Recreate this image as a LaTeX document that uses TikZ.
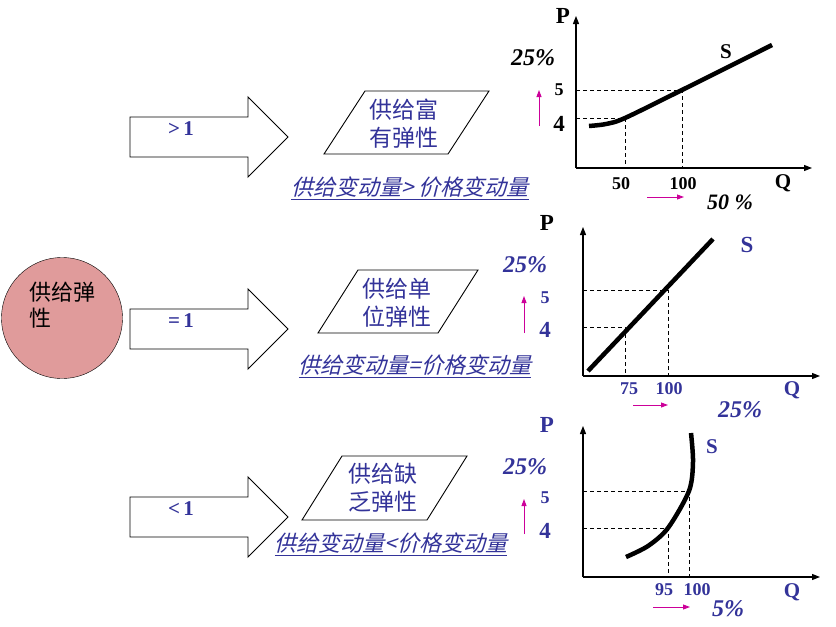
\documentclass[tikz,border=0pt]{standalone}
\usepackage{fontspec}
\setmainfont{Liberation Serif}
\newfontfamily\cjk{Noto Sans CJK SC}
\newfontfamily\cjkslant[FakeSlant=0.25]{Noto Sans CJK SC}
\usetikzlibrary{arrows.meta}
\definecolor{txtblue}{RGB}{51,51,153}
\definecolor{arrowpink}{RGB}{204,0,153}
\definecolor{ballred}{RGB}{224,155,155}
\tikzset{
  axisline/.style={line width=1.2pt, -{Triangle[length=8pt,width=6pt]}},
  guideline/.style={line width=0.7pt, dash pattern=on 4pt off 3pt},
  supplyline/.style={line width=4.5pt},
  rise/.style={arrowpink, line width=0.9pt, -{Triangle[length=7pt,width=5pt]}},
  blockarrow/.style={draw, line width=0.9pt, fill=white},
  slantbox/.style={draw, line width=0.9pt},
  ratiolabel/.style={font=\bfseries\fontsize{21}{21}\selectfont, text=txtblue},
  kindlabel/.style={font=\cjk\fontsize{23}{28}\selectfont, text=txtblue, align=center},
  rulelabel/.style={font=\cjkslant\fontsize{22}{22}\selectfont, text=txtblue, inner sep=0pt},
  ticklab/.style={font=\bfseries\fontsize{18}{18}\selectfont, inner sep=0pt},
  biglab/.style={font=\bfseries\fontsize{23}{23}\selectfont, inner sep=0pt},
  axislab/.style={font=\bfseries\fontsize{21}{21}\selectfont, inner sep=0pt},
  pct/.style={font=\bfseries\itshape\fontsize{24}{24}\selectfont, inner sep=0pt},
}
\begin{document}
\begin{tikzpicture}[x=1pt,y=-1pt]
\useasboundingbox (0,0) rectangle (836,627);

% supply elasticity
\node[circle, draw, fill=ballred, minimum size=121pt, inner sep=0pt] (elast) at (62,318) {};
\node[font=\cjk\fontsize{22}{26}\selectfont, align=left, inner sep=0pt, anchor=north west] (elasttext) at (29,282) {供给弹\\性};

% block arrows
\foreach \yc/\lab/\name in {137/{>\,1}/gt, 329/{=\,1}/eq, 517/{<\,1}/lt}{
  \draw[blockarrow] (130,\yc-20) -- (248,\yc-20) -- (248,\yc-40) -- (288,\yc)
    -- (248,\yc+40) -- (248,\yc+20) -- (130,\yc+20) -- cycle;
  \node[ratiolabel] (ratio\name) at (181,\yc-8) {\lab};
}

% parallelograms
\draw[slantbox] (365,91) -- (489,91) -- (448,154) -- (324,154) -- cycle;
\node[kindlabel] (rich) at (404,124) {供给富\\有弹性};
\draw[slantbox] (358,270) -- (478,270) -- (438,333) -- (318,333) -- cycle;
\node[kindlabel] (unit) at (397,303) {供给单\\位弹性};
\draw[slantbox] (342,456) -- (467,456) -- (427,520) -- (302,520) -- cycle;
\node[kindlabel] (poor) at (383,488) {供给缺\\乏弹性};

\node[rulelabel] (rulegt) at (410,188) {\underline{供给变动量> 价格变动量}};
\node[rulelabel] (ruleeq) at (415,366) {\underline{供给变动量=价格变动量}};
\node[rulelabel] (rulelt) at (391,544) {\underline{供给变动量<价格变动量}};

% elastic supply
\draw[axisline] (576,168) -- (576,16);
\draw[axisline] (576,168) -- (812,168);
\draw[guideline] (576,90) -- (682,90) -- (682,168);
\draw[guideline] (576,118) -- (625,118) -- (625,168);
\draw[supplyline] plot[smooth] coordinates {(589,126) (606,124) (625,118) (682,90) (772,45)};
\node[biglab] (p1) at (563,16) {P};
\node[axislab] (s1) at (726,52) {S};
\node[axislab] (q1) at (783,183) {Q};
\node[pct] (dp1) at (533,58) {25\%};
\node[ticklab] (five1) at (559,90) {5};
\node[biglab] (four1) at (559,124) {4};
\node[ticklab] (qa1) at (621,184) {50};
\node[ticklab] (qb1) at (683,184) {100};
\node[pct, font=\bfseries\itshape\fontsize{22}{22}\selectfont] (dq1) at (730,202) {50 \%};
\draw[rise] (539,126) -- (539,90);
\draw[rise] (647,197) -- (684,197);

% unit elastic supply
\draw[axisline] (583,376) -- (583,227);
\draw[axisline] (583,376) -- (820,376);
\draw[guideline] (583,290) -- (668,290) -- (668,376);
\draw[guideline] (583,327) -- (625,327) -- (625,376);
\draw[supplyline] (588,371) -- (713,239);
\node[biglab] (p2) at (547,223) {P};
\begin{scope}[txtblue]
\node[biglab] (s2) at (747,245) {S};
\node[axislab] (q2) at (792,390) {Q};
\node[pct] (dp2) at (525,265) {25\%};
\node[ticklab] (five2) at (545,298) {5};
\node[biglab] (four2) at (545,330) {4};
\node[ticklab] (qa2) at (629,389) {75};
\node[ticklab] (qb2) at (669,389) {100};
\node[pct] (dq2) at (740,410) {25\%};
\end{scope}
\draw[rise] (524,333) -- (524,296);
\draw[rise] (633,405) -- (668,405);

% inelastic supply
\draw[axisline] (583,577) -- (583,426);
\draw[axisline] (583,577) -- (820,577);
\draw[guideline] (583,491) -- (689,491) -- (689,577);
\draw[guideline] (583,528) -- (668,528) -- (668,577);
\draw[supplyline] plot[smooth] coordinates {(626,557) (648,546) (668,528) (689,491) (693,462) (691,433)};
\begin{scope}[txtblue]
\node[biglab] (p3) at (547,425) {P};
\node[axislab] (s3) at (712,447) {S};
\node[axislab] (q3) at (792,592) {Q};
\node[pct] (dp3) at (525,467) {25\%};
\node[ticklab] (five3) at (545,498) {5};
\node[biglab] (four3) at (545,531) {4};
\node[ticklab] (qa3) at (664,590) {95};
\node[ticklab] (qb3) at (697,590) {100};
\node[pct] (dq3) at (728,609) {5\%};
\end{scope}
\draw[rise] (524,534) -- (524,499);
\draw[rise] (653,607) -- (690,607);
\end{tikzpicture}
\end{document}
